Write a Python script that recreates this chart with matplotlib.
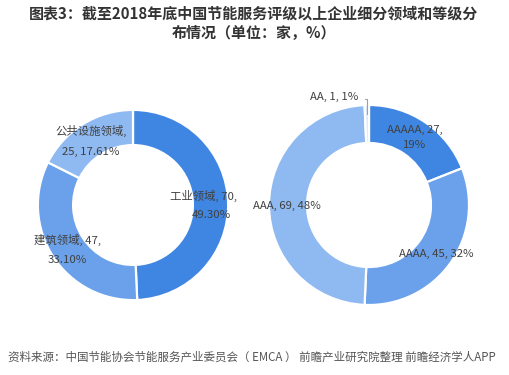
import numpy as np
import matplotlib
matplotlib.use('Agg')
import matplotlib.pyplot as plt

plt.rcParams['font.family'] = ['Noto Sans CJK SC', 'DejaVu Sans']

# left donut: by field
fields = ['工业领域', '建筑领域', '公共设施领域']
field_counts = [70, 47, 25]
field_pcts = ['49.30%', '33.10%', '17.61%']

# right donut: by grade
grades = ['AAAAA', 'AAAA', 'AAA', 'AA']
grade_counts = [27, 45, 69, 1]
grade_pcts = ['19%', '32%', '48%', '1%']

title = '图表3：截至2018年底中国节能服务评级以上企业细分领域和等级分\n布情况（单位：家，%）'
source = '资料来源：中国节能协会节能服务产业委员会（ EMCA ） 前瞻产业研究院整理 前瞻经济学人APP'

W, H = 509, 375
fig = plt.figure(figsize=(W / 100, H / 100), dpi=100)


def px_axes(cx, cy, r):
    return fig.add_axes([(cx - r) / W, 1 - (cy + r) / H, 2 * r / W, 2 * r / H])


def ftext(x, y, s, **kw):
    fig.text(x / W, 1 - y / H, s, **kw)


lab = dict(fontsize=8.2, color='#404040', ha='center', va='center')

ax1 = px_axes(133, 205, 97)
ax1.pie(field_counts, colors=['#3f86e2', '#6aa1ea', '#8fb9f1'], startangle=90,
        counterclock=False, radius=1,
        wedgeprops=dict(width=0.37, edgecolor='white', linewidth=1.6))
ax1.set_xlim(-1.02, 1.02); ax1.set_ylim(-1.02, 1.02)
ax1.set_aspect('equal'); ax1.axis('off')

ax2 = px_axes(369, 205, 102)
wedges, _ = ax2.pie(grade_counts, colors=['#3f86e2', '#6aa1ea', '#8fb9f1', '#dde9f8'],
                    startangle=90, counterclock=False, radius=1,
                    wedgeprops=dict(width=0.38, edgecolor='white', linewidth=1.6))
ax2.set_xlim(-1.02, 1.02); ax2.set_ylim(-1.02, 1.02)
ax2.set_aspect('equal'); ax2.axis('off')

# leader line for the tiny AA slice
w = wedges[3]
ang = np.deg2rad((w.theta1 + w.theta2) / 2)
ax2.annotate('', xy=(0.88 * np.cos(ang), 0.88 * np.sin(ang)), xytext=(-0.07, 1.06),
             arrowprops=dict(arrowstyle='-', color='#a0a0a0', lw=0.8,
                             connectionstyle='angle,angleA=0,angleB=90,rad=0'),
             annotation_clip=False)

# left labels
ftext(203, 196, f'{fields[0]}, {field_counts[0]},', **lab)
ftext(211, 215, field_pcts[0], **lab)
ftext(67, 240, f'{fields[1]}, {field_counts[1]},', **lab)
ftext(67, 260, field_pcts[1], **lab)
ftext(91, 131, f'{fields[2]},', **lab)
ftext(91, 152, f'{field_counts[2]}, {field_pcts[2]}', **lab)

# right labels
ftext(415, 130, f'{grades[0]}, {grade_counts[0]},', **lab)
ftext(415, 145, grade_pcts[0], **lab)
ftext(436, 254, f'{grades[1]}, {grade_counts[1]}, {grade_pcts[1]}', **lab)
ftext(287, 206, f'{grades[2]}, {grade_counts[2]}, {grade_pcts[2]}', **lab)
ftext(358, 97, f'{grades[3]}, {grade_counts[3]}, {grade_pcts[3]}',
      fontsize=8.2, color='#404040', ha='right', va='center')

ftext(254, 23, title, fontsize=10.8, fontweight='bold', color='#333333',
      ha='center', va='center', linespacing=1.3)
ftext(8, 357, source, fontsize=8.3, color='#555555', style='italic',
      ha='left', va='center')

fig.savefig('out.png', dpi=100, facecolor='white')
